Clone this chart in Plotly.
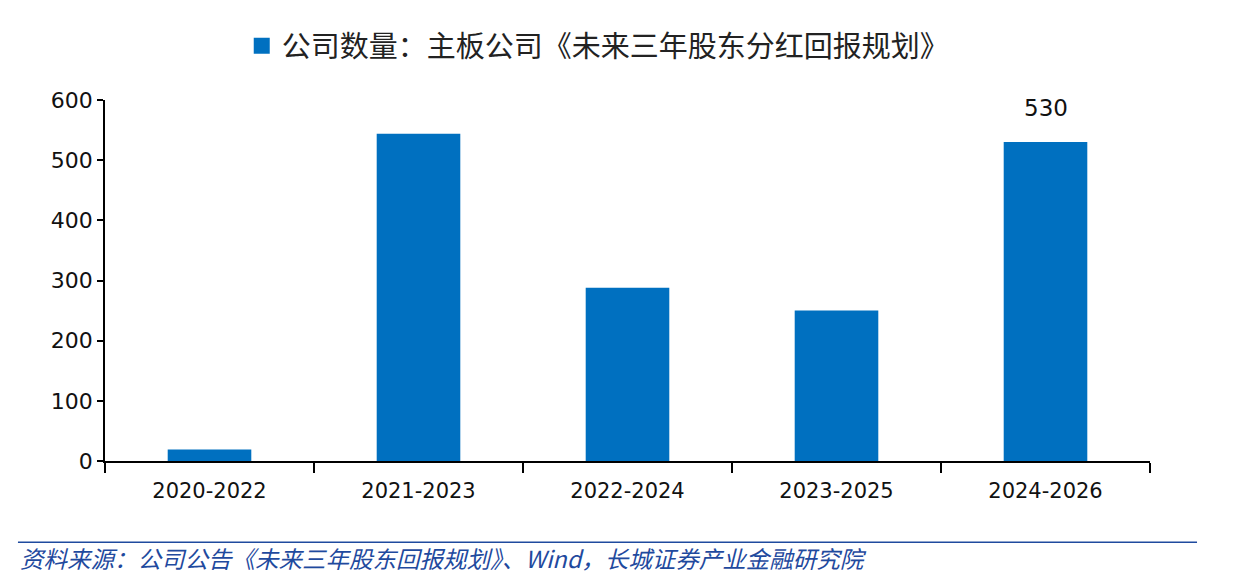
import plotly.graph_objects as go

categories = ["2020-2022", "2021-2023", "2022-2024", "2023-2025", "2024-2026"]
values = [19, 544, 288, 250, 530]
series_name = "公司数量：主板公司《未来三年股东分红回报规划》"
label_index = 4
source_text = "资料来源：公司公告《未来三年股东回报规划》、Wind，长城证券产业金融研究院"

bar_color = "#0070C0"

fig = go.Figure()
fig.add_trace(go.Bar(
    x=categories, y=values, name=series_name,
    marker=dict(color=bar_color, line=dict(width=0)),
    showlegend=False,
))
# legend entry with a larger square swatch
fig.add_trace(go.Scatter(
    x=[None], y=[None], mode="markers", name=series_name,
    marker=dict(symbol="square", size=18, color=bar_color),
    showlegend=True,
))

fig.add_annotation(
    x=categories[label_index], y=values[label_index], text=str(values[label_index]),
    showarrow=False, yanchor="bottom", yshift=19,
    font=dict(family="DejaVu Sans, Verdana", size=23, color="#111111"),
)

blue = "#1F4A9E"
fig.add_shape(type="line", xref="paper", yref="paper",
              x0=-0.0833, x1=1.045, y0=-0.225, y1=-0.225,
              line=dict(color=blue, width=1.5))
fig.add_annotation(
    xref="paper", yref="paper", x=-0.0833, y=-0.268, xanchor="left", yanchor="middle",
    text="<i>" + source_text + "</i>", showarrow=False,
    font=dict(family="Noto Sans CJK SC", size=23.5, color=blue),
)

fig.update_layout(
    width=1240, height=583,
    margin=dict(l=97, r=98, t=87, b=130),
    paper_bgcolor="white", plot_bgcolor="white",
    bargap=0.6,
    legend=dict(orientation="h", x=0.472, y=1.15, xanchor="center", yanchor="middle",
                font=dict(family="Noto Sans CJK SC", size=29, color="#222222"),
                itemsizing="trace"),
    xaxis=dict(showline=True, linecolor="black", linewidth=1.5,
               ticks="outside", tickson="boundaries", ticklen=10, tickwidth=1.5,
               tickcolor="black", showgrid=False, ticklabelstandoff=10,
               tickfont=dict(family="DejaVu Sans, Verdana", size=21, color="#111111")),
    yaxis=dict(range=[0, 600], dtick=100, showline=True, linecolor="black", linewidth=1.5,
               ticks="outside", ticklen=6, tickwidth=1.5, tickcolor="black",
               showgrid=False, zeroline=False,
               tickfont=dict(family="DejaVu Sans, Verdana", size=22, color="#111111")),
)

fig.write_html("out.html")
